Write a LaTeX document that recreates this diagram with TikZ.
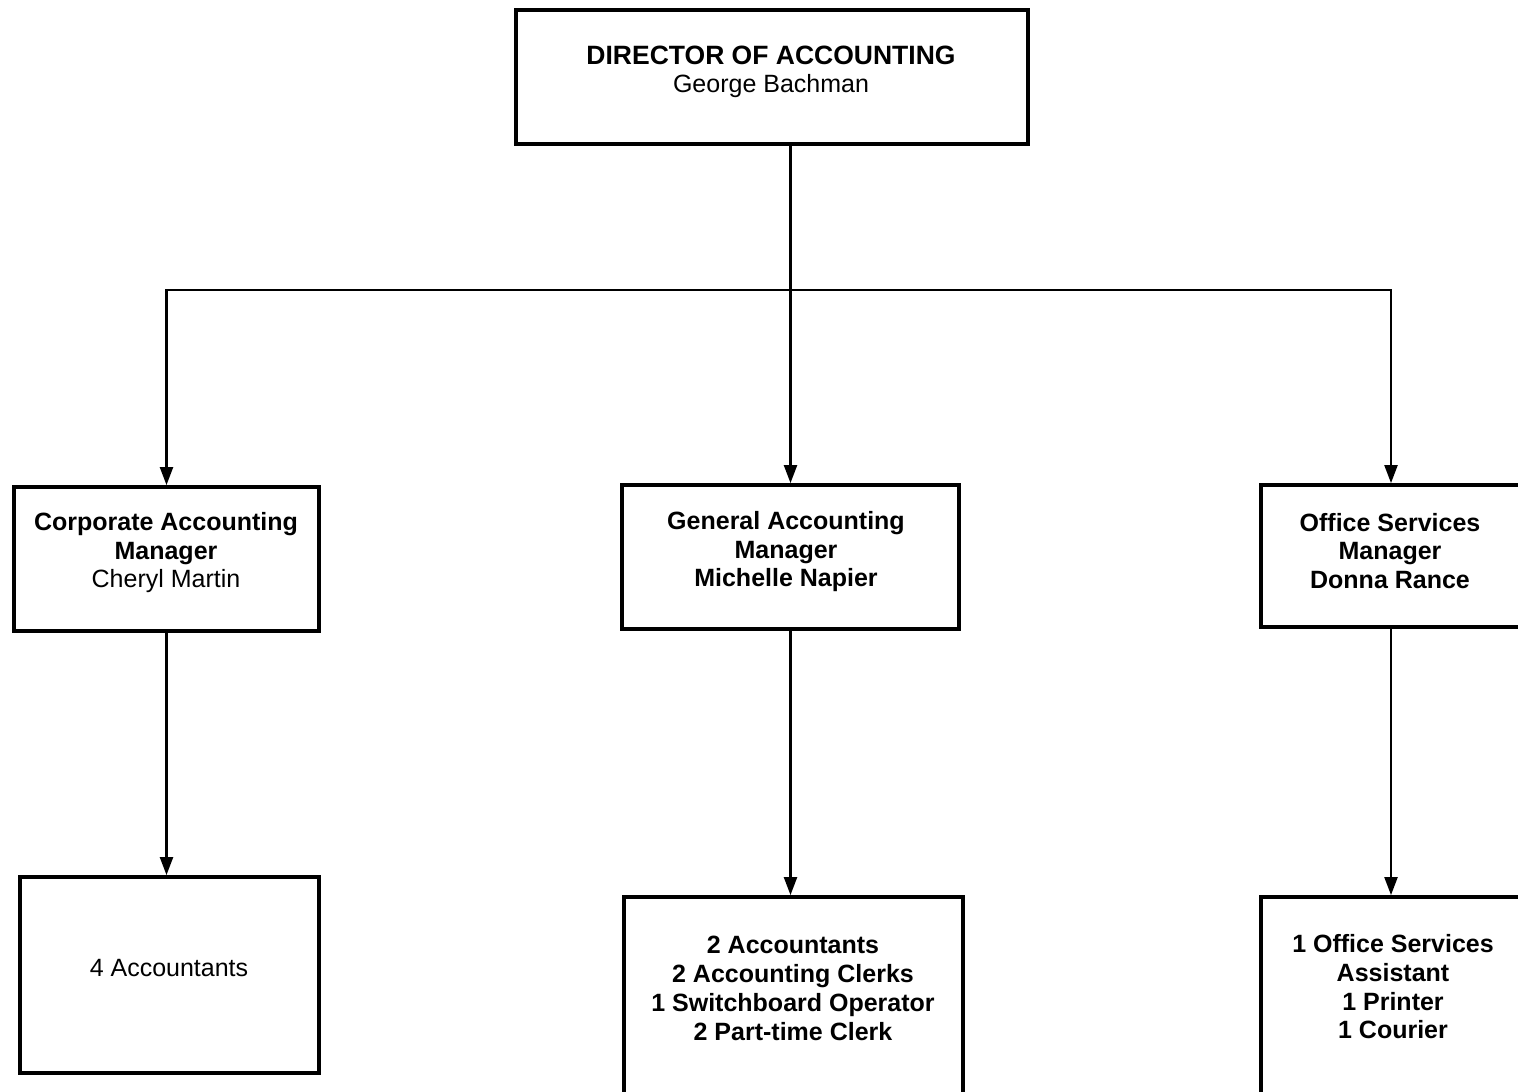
\documentclass[tikz,border=0pt]{standalone}
\usepackage{fontspec}
\setmainfont{Liberation Sans}
\usetikzlibrary{arrows.meta}
\begin{document}
\begin{tikzpicture}[x=1pt,y=-1pt,
  orgbox/.style={draw, line width=3.8pt, inner sep=0pt},
  lbl/.style={align=center, inner sep=0pt, font=\fontsize{25}{28.5}\selectfont},
  link/.style={line width=2.2pt, -{Triangle[length=18pt,width=13pt]}}]
\useasboundingbox (0,0) rectangle (1518,1092);
\clip (0,0) rectangle (1518,1092);
\fill[white] (0,0) rectangle (1518,1092);

% boxes
\node[orgbox, minimum width=512pt, minimum height=134pt] (dir) at (772,77) {};
\node[orgbox, minimum width=305pt, minimum height=144pt] (cm) at (166.5,559) {};
\node[orgbox, minimum width=337pt, minimum height=144pt] (gm) at (790.5,557) {};
\node[orgbox, minimum width=260pt, minimum height=142pt] (os) at (1391,556) {};
\node[orgbox, minimum width=299pt, minimum height=196pt] (ca) at (169.5,975) {};
\node[orgbox, minimum width=339pt, minimum height=206pt] (gs) at (793.5,1000) {};
\node[orgbox, minimum width=260pt, minimum height=206pt] (ot) at (1391,1000) {};

% texts
\node[lbl] (dirT) at (771,72) {{\fontsize{26.5}{29}\selectfont\bfseries DIRECTOR OF ACCOUNTING}\\George Bachman};
\node[lbl] (cmT) at (166,553) {\bfseries Corporate Accounting\\\bfseries Manager\\Cheryl Martin};
\node[lbl, font=\fontsize{25}{28.5}\selectfont\bfseries] (gmT) at (786,552) {General Accounting\\Manager\\Michelle Napier};
\node[lbl, font=\fontsize{25}{28.5}\selectfont\bfseries] (osT) at (1390,551) {Office Services\\Manager\\Donna Rance};
\node[lbl] (caT) at (169,968) {4 Accountants};
\node[lbl, font=\fontsize{25}{29}\selectfont\bfseries] (gsT) at (793,988) {2 Accountants\\2 Accounting Clerks\\1 Switchboard Operator\\2 Part-time Clerk};
\node[lbl, font=\fontsize{25}{28.7}\selectfont\bfseries] (otT) at (1393,987) {1 Office Services\\Assistant\\1 Printer\\1 Courier};

% connectors
\coordinate (hub) at (789,290);
\draw[link] (dir.south -| gm.north) -- (gm.north);
\draw[link] (hub) -| (cm.north);
\draw[link] (hub) -| (os.north);
\draw[link] (cm.south) -- (cm.south |- ca.north);
\draw[link] (gm.south) -- (gm.south |- gs.north);
\draw[link] (os.south) -- (os.south |- ot.north);
\end{tikzpicture}
\end{document}
